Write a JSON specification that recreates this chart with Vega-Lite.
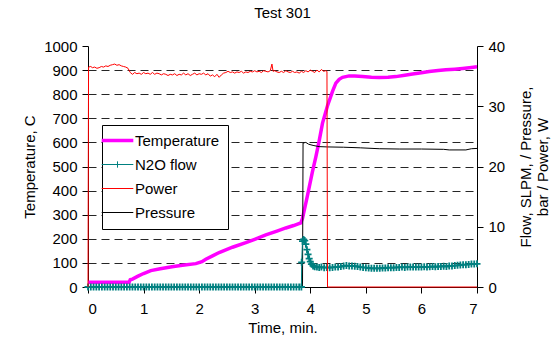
{
  "$schema": "https://vega.github.io/schema/vega-lite/v6.json",
  "width": 389,
  "height": 241,
  "autosize": {"type": "none"},
  "padding": {"left": 88, "top": 46, "right": 76, "bottom": 58},
  "background": "white",
  "title": {"text": "Test 301", "fontSize": 15, "fontWeight": "normal", "font": "Liberation Sans", "color": "black", "offset": 18},
  "config": {
    "view": {"stroke": null},
    "font": "Liberation Sans",
    "axis": {"labelFont": "Liberation Sans", "titleFont": "Liberation Sans", "labelFontSize": 15, "titleFontSize": 15, "labelColor": "black", "titleColor": "black", "titleFontWeight": "normal", "domainColor": "black", "tickColor": "black", "tickSize": 6, "grid": false, "labelOverlap": false}
  },
  "datasets": {
    "temp": [
      {"t": 0, "v": 20}, {"t": 0.74, "v": 20}, {"t": 0.76, "v": 30}, {"t": 0.8, "v": 33}, {"t": 0.9, "v": 45},
      {"t": 1.0, "v": 56}, {"t": 1.13, "v": 68}, {"t": 1.3, "v": 76}, {"t": 1.51, "v": 84}, {"t": 1.7, "v": 90},
      {"t": 1.94, "v": 97}, {"t": 2.05, "v": 105}, {"t": 2.12, "v": 115}, {"t": 2.25, "v": 130}, {"t": 2.36, "v": 143},
      {"t": 2.6, "v": 165}, {"t": 2.84, "v": 184}, {"t": 3.0, "v": 198}, {"t": 3.2, "v": 216}, {"t": 3.4, "v": 232},
      {"t": 3.56, "v": 245}, {"t": 3.7, "v": 255}, {"t": 3.83, "v": 266}, {"t": 3.86, "v": 285}, {"t": 3.95, "v": 380},
      {"t": 4.04, "v": 480}, {"t": 4.1, "v": 540}, {"t": 4.16, "v": 606}, {"t": 4.22, "v": 680}, {"t": 4.31, "v": 752},
      {"t": 4.4, "v": 812}, {"t": 4.46, "v": 846}, {"t": 4.52, "v": 862}, {"t": 4.58, "v": 870}, {"t": 4.7, "v": 876},
      {"t": 4.8, "v": 876}, {"t": 4.94, "v": 873}, {"t": 5.1, "v": 870}, {"t": 5.24, "v": 869}, {"t": 5.4, "v": 870},
      {"t": 5.54, "v": 873}, {"t": 5.7, "v": 879}, {"t": 5.84, "v": 884}, {"t": 6.0, "v": 889}, {"t": 6.14, "v": 894},
      {"t": 6.3, "v": 898}, {"t": 6.44, "v": 901}, {"t": 6.6, "v": 904}, {"t": 6.74, "v": 907}, {"t": 6.9, "v": 911},
      {"t": 7.0, "v": 914}
    ],
    "pressure": [
      {"t": 0, "v": 0}, {"t": 3.86, "v": 0}, {"t": 3.87, "v": 23.9}, {"t": 3.92, "v": 24.0}, {"t": 3.97, "v": 23.7},
      {"t": 4.05, "v": 23.5}, {"t": 4.16, "v": 23.3}, {"t": 4.3, "v": 23.25}, {"t": 4.6, "v": 23.2}, {"t": 4.9, "v": 23.1},
      {"t": 5.24, "v": 22.95}, {"t": 5.6, "v": 22.9}, {"t": 6.0, "v": 22.9}, {"t": 6.4, "v": 22.85}, {"t": 6.5, "v": 22.75},
      {"t": 6.8, "v": 22.75}, {"t": 6.9, "v": 22.95}, {"t": 7.0, "v": 23.0}
    ],
    "power": [
      {"t": 0, "v": 0}, {"t": 0.01, "v": 36.5}, {"t": 0.05, "v": 36.6}, {"t": 0.08, "v": 36.4}, {"t": 0.12, "v": 36.5},
      {"t": 0.16, "v": 36.3}, {"t": 0.2, "v": 36.4}, {"t": 0.24, "v": 36.6}, {"t": 0.28, "v": 36.5}, {"t": 0.32, "v": 36.7},
      {"t": 0.36, "v": 36.6}, {"t": 0.4, "v": 36.8}, {"t": 0.44, "v": 36.9}, {"t": 0.48, "v": 37.0}, {"t": 0.52, "v": 36.8},
      {"t": 0.56, "v": 36.9}, {"t": 0.6, "v": 36.7}, {"t": 0.64, "v": 36.6}, {"t": 0.68, "v": 36.5}, {"t": 0.72, "v": 36.3},
      {"t": 0.76, "v": 35.6}, {"t": 0.8, "v": 35.3}, {"t": 0.84, "v": 35.6}, {"t": 0.88, "v": 35.4}, {"t": 0.92, "v": 35.5},
      {"t": 0.96, "v": 35.3}, {"t": 1.0, "v": 35.6}, {"t": 1.04, "v": 35.4}, {"t": 1.08, "v": 35.5}, {"t": 1.12, "v": 35.3},
      {"t": 1.16, "v": 35.6}, {"t": 1.2, "v": 35.3}, {"t": 1.24, "v": 35.5}, {"t": 1.28, "v": 35.4}, {"t": 1.32, "v": 35.2},
      {"t": 1.36, "v": 35.4}, {"t": 1.4, "v": 35.3}, {"t": 1.44, "v": 35.1}, {"t": 1.48, "v": 35.3}, {"t": 1.52, "v": 35.2},
      {"t": 1.56, "v": 35.4}, {"t": 1.6, "v": 35.1}, {"t": 1.64, "v": 35.3}, {"t": 1.68, "v": 35.2}, {"t": 1.72, "v": 35.5},
      {"t": 1.76, "v": 35.2}, {"t": 1.8, "v": 35.4}, {"t": 1.84, "v": 35.1}, {"t": 1.88, "v": 35.3}, {"t": 1.92, "v": 35.5},
      {"t": 1.96, "v": 35.2}, {"t": 2.0, "v": 35.4}, {"t": 2.04, "v": 35.3}, {"t": 2.08, "v": 35.5}, {"t": 2.12, "v": 35.2},
      {"t": 2.16, "v": 35.4}, {"t": 2.2, "v": 35.0}, {"t": 2.24, "v": 35.2}, {"t": 2.28, "v": 34.9}, {"t": 2.32, "v": 35.3},
      {"t": 2.36, "v": 34.8}, {"t": 2.4, "v": 35.2}, {"t": 2.44, "v": 35.5}, {"t": 2.48, "v": 35.6}, {"t": 2.52, "v": 35.8},
      {"t": 2.56, "v": 35.6}, {"t": 2.6, "v": 35.7}, {"t": 2.64, "v": 35.5}, {"t": 2.68, "v": 35.7}, {"t": 2.72, "v": 35.6},
      {"t": 2.76, "v": 35.8}, {"t": 2.8, "v": 35.5}, {"t": 2.84, "v": 35.7}, {"t": 2.88, "v": 35.6}, {"t": 2.92, "v": 35.8},
      {"t": 2.96, "v": 35.7}, {"t": 3.0, "v": 35.9}, {"t": 3.04, "v": 35.7}, {"t": 3.08, "v": 35.8}, {"t": 3.12, "v": 35.6},
      {"t": 3.16, "v": 35.9}, {"t": 3.2, "v": 35.8}, {"t": 3.24, "v": 35.7}, {"t": 3.28, "v": 35.9}, {"t": 3.31, "v": 37.0},
      {"t": 3.33, "v": 35.8}, {"t": 3.36, "v": 35.9}, {"t": 3.4, "v": 35.7}, {"t": 3.44, "v": 35.6}, {"t": 3.48, "v": 35.8},
      {"t": 3.52, "v": 35.6}, {"t": 3.56, "v": 35.9}, {"t": 3.6, "v": 35.7}, {"t": 3.64, "v": 35.6}, {"t": 3.68, "v": 35.8},
      {"t": 3.72, "v": 35.6}, {"t": 3.76, "v": 35.7}, {"t": 3.8, "v": 35.5}, {"t": 3.84, "v": 35.8}, {"t": 3.88, "v": 35.6},
      {"t": 3.92, "v": 35.9}, {"t": 3.96, "v": 35.7}, {"t": 4.0, "v": 36.0}, {"t": 4.04, "v": 35.8}, {"t": 4.08, "v": 35.6},
      {"t": 4.12, "v": 36.0}, {"t": 4.16, "v": 35.7}, {"t": 4.2, "v": 36.1}, {"t": 4.24, "v": 35.8}, {"t": 4.28, "v": 35.9},
      {"t": 4.3, "v": 35.8}, {"t": 4.31, "v": 0}, {"t": 7.0, "v": 0}
    ],
    "flow": [
      {"t": 0, "v": 0}, {"t": 0.05, "v": 0}, {"t": 0.1, "v": 0}, {"t": 0.15, "v": 0}, {"t": 0.2, "v": 0},
      {"t": 0.25, "v": 0}, {"t": 0.3, "v": 0}, {"t": 0.35, "v": 0}, {"t": 0.4, "v": 0}, {"t": 0.45, "v": 0},
      {"t": 0.5, "v": 0}, {"t": 0.55, "v": 0}, {"t": 0.6, "v": 0}, {"t": 0.65, "v": 0}, {"t": 0.7, "v": 0},
      {"t": 0.75, "v": 0}, {"t": 0.8, "v": 0}, {"t": 0.85, "v": 0}, {"t": 0.9, "v": 0}, {"t": 0.95, "v": 0},
      {"t": 1.0, "v": 0}, {"t": 1.05, "v": 0}, {"t": 1.1, "v": 0}, {"t": 1.15, "v": 0}, {"t": 1.2, "v": 0},
      {"t": 1.25, "v": 0}, {"t": 1.3, "v": 0}, {"t": 1.35, "v": 0}, {"t": 1.4, "v": 0}, {"t": 1.45, "v": 0},
      {"t": 1.5, "v": 0}, {"t": 1.55, "v": 0}, {"t": 1.6, "v": 0}, {"t": 1.65, "v": 0}, {"t": 1.7, "v": 0},
      {"t": 1.75, "v": 0}, {"t": 1.8, "v": 0}, {"t": 1.85, "v": 0}, {"t": 1.9, "v": 0}, {"t": 1.95, "v": 0},
      {"t": 2.0, "v": 0}, {"t": 2.05, "v": 0}, {"t": 2.1, "v": 0}, {"t": 2.15, "v": 0}, {"t": 2.2, "v": 0},
      {"t": 2.25, "v": 0}, {"t": 2.3, "v": 0}, {"t": 2.35, "v": 0}, {"t": 2.4, "v": 0}, {"t": 2.45, "v": 0},
      {"t": 2.5, "v": 0}, {"t": 2.55, "v": 0}, {"t": 2.6, "v": 0}, {"t": 2.65, "v": 0}, {"t": 2.7, "v": 0},
      {"t": 2.75, "v": 0}, {"t": 2.8, "v": 0}, {"t": 2.85, "v": 0}, {"t": 2.9, "v": 0}, {"t": 2.95, "v": 0},
      {"t": 3.0, "v": 0}, {"t": 3.05, "v": 0}, {"t": 3.1, "v": 0}, {"t": 3.15, "v": 0}, {"t": 3.2, "v": 0},
      {"t": 3.25, "v": 0}, {"t": 3.3, "v": 0}, {"t": 3.35, "v": 0}, {"t": 3.4, "v": 0}, {"t": 3.45, "v": 0},
      {"t": 3.5, "v": 0}, {"t": 3.55, "v": 0}, {"t": 3.6, "v": 0}, {"t": 3.65, "v": 0}, {"t": 3.7, "v": 0},
      {"t": 3.75, "v": 0}, {"t": 3.8, "v": 0}, {"t": 3.84, "v": 0}, {"t": 3.845, "v": 4.1}, {"t": 3.86, "v": 7.6},
      {"t": 3.88, "v": 7.9}, {"t": 3.9, "v": 7.7}, {"t": 3.92, "v": 7.1}, {"t": 3.94, "v": 6.2}, {"t": 3.96, "v": 5.4},
      {"t": 3.98, "v": 4.7}, {"t": 4.0, "v": 4.2}, {"t": 4.02, "v": 3.8}, {"t": 4.05, "v": 3.5}, {"t": 4.08, "v": 3.35},
      {"t": 4.12, "v": 3.3}, {"t": 4.16, "v": 3.25}, {"t": 4.2, "v": 3.3}, {"t": 4.25, "v": 3.2}, {"t": 4.3, "v": 3.25},
      {"t": 4.35, "v": 3.2}, {"t": 4.4, "v": 3.25}, {"t": 4.45, "v": 3.3}, {"t": 4.5, "v": 3.3}, {"t": 4.55, "v": 3.4},
      {"t": 4.6, "v": 3.5}, {"t": 4.65, "v": 3.55}, {"t": 4.7, "v": 3.5}, {"t": 4.75, "v": 3.5}, {"t": 4.8, "v": 3.45},
      {"t": 4.85, "v": 3.4}, {"t": 4.9, "v": 3.3}, {"t": 4.95, "v": 3.25}, {"t": 5.0, "v": 3.2}, {"t": 5.05, "v": 3.15},
      {"t": 5.1, "v": 3.1}, {"t": 5.15, "v": 3.1}, {"t": 5.2, "v": 3.1}, {"t": 5.25, "v": 3.1}, {"t": 5.3, "v": 3.15},
      {"t": 5.35, "v": 3.15}, {"t": 5.4, "v": 3.2}, {"t": 5.45, "v": 3.2}, {"t": 5.5, "v": 3.2}, {"t": 5.55, "v": 3.25},
      {"t": 5.6, "v": 3.25}, {"t": 5.65, "v": 3.3}, {"t": 5.7, "v": 3.25}, {"t": 5.75, "v": 3.3}, {"t": 5.8, "v": 3.3},
      {"t": 5.85, "v": 3.3}, {"t": 5.9, "v": 3.3}, {"t": 5.95, "v": 3.3}, {"t": 6.0, "v": 3.3}, {"t": 6.05, "v": 3.35},
      {"t": 6.1, "v": 3.3}, {"t": 6.15, "v": 3.35}, {"t": 6.2, "v": 3.4}, {"t": 6.25, "v": 3.35}, {"t": 6.3, "v": 3.4},
      {"t": 6.35, "v": 3.4}, {"t": 6.4, "v": 3.45}, {"t": 6.45, "v": 3.4}, {"t": 6.5, "v": 3.5}, {"t": 6.55, "v": 3.5},
      {"t": 6.6, "v": 3.55}, {"t": 6.65, "v": 3.6}, {"t": 6.7, "v": 3.65}, {"t": 6.75, "v": 3.7}, {"t": 6.8, "v": 3.7},
      {"t": 6.85, "v": 3.75}, {"t": 6.9, "v": 3.8}, {"t": 6.95, "v": 3.8}, {"t": 7.0, "v": 3.85}
    ]
  },
  "layer": [
    {
      "data": {"name": "temp"},
      "mark": {"type": "line", "strokeWidth": 3.5, "clip": false},
      "encoding": {
        "x": {"field": "t", "type": "quantitative", "scale": {"domain": [0, 7], "nice": false},
              "axis": {"title": "Time, min.", "format": "d", "values": [0,1,2,3,4,5,6,7], "labelPadding": 8, "titlePadding": 4, "domain": true}},
        "y": {"field": "v", "type": "quantitative", "scale": {"domain": [0, 1000], "nice": false},
              "axis": {"title": "Temperature, C", "orient": "left", "format": "d", "values": [0,100,200,300,400,500,600,700,800,900,1000], "labelPadding": 5, "titlePadding": 6,
                       "grid": true, "gridColor": "black", "gridDash": [8, 5], "gridWidth": 1,
                       "gridOpacity": {"condition": {"test": "datum.value === 0 || datum.value === 1000", "value": 0}, "value": 0.85}}},
        "color": {"datum": "Temperature", "type": "nominal",
                  "scale": {"domain": ["Temperature", "N2O flow", "Power", "Pressure"], "range": ["#ff00ff", "#008080", "#ff0000", "#000000"]},
                  "legend": {"title": null, "orient": "none", "legendX": 14, "legendY": 79, "strokeColor": "black", "fillColor": "white", "padding": 8,
                             "symbolType": "stroke", "symbolSize": 1000, "symbolStrokeWidth": 1, "labelFontSize": 15, "labelFont": "Liberation Sans", "labelColor": "black", "labelOffset": 10, "rowPadding": 8,
                             "encode": {"symbols": {"update": {"strokeWidth": {"signal": "datum.value === 'Temperature' ? 3.5 : 1"}, "shape": {"signal": "datum.value === 'N2O flow' ? 'M-1,0H1M0,-0.2V0.2' : 'stroke'"}}}}}}
      }
    },
    {
      "layer": [
        {
          "data": {"name": "pressure"},
          "mark": {"type": "line", "strokeWidth": 1},
          "encoding": {
            "x": {"field": "t", "type": "quantitative", "scale": {"domain": [0, 7], "nice": false},
                  "axis": {"title": "Time, min.", "format": "d", "values": [0,1,2,3,4,5,6,7], "labelPadding": 8, "titlePadding": 4, "domain": true}},
            "y": {"field": "v", "type": "quantitative", "scale": {"domain": [0, 40], "nice": false},
                  "axis": {"orient": "right", "title": ["Flow, SLPM, / Pressure,", "bar / Power, W"], "titleAngle": 270, "values": [0,5,10,15,20,25,30,35,40], "labelPadding": 5, "titlePadding": 12, "grid": false}},
            "color": {"datum": "Pressure", "type": "nominal"}
          }
        },
        {
          "data": {"name": "flow"},
          "mark": {"type": "line", "strokeWidth": 1},
          "encoding": {
            "x": {"field": "t", "type": "quantitative"},
            "y": {"field": "v", "type": "quantitative"},
            "color": {"datum": "N2O flow", "type": "nominal"}
          }
        },
        {
          "data": {"name": "flow"},
          "mark": {"type": "point", "shape": "M-1,0H1M0,-1V1", "filled": false, "size": 49, "strokeWidth": 1.8, "opacity": 1},
          "encoding": {
            "x": {"field": "t", "type": "quantitative"},
            "y": {"field": "v", "type": "quantitative"},
            "color": {"datum": "N2O flow", "type": "nominal"}
          }
        },
        {
          "data": {"name": "power"},
          "mark": {"type": "line", "strokeWidth": 1},
          "encoding": {
            "x": {"field": "t", "type": "quantitative"},
            "y": {"field": "v", "type": "quantitative"},
            "color": {"datum": "Power", "type": "nominal"}
          }
        }
      ]
    }
  ],
  "resolve": {"scale": {"y": "independent"}}
}
